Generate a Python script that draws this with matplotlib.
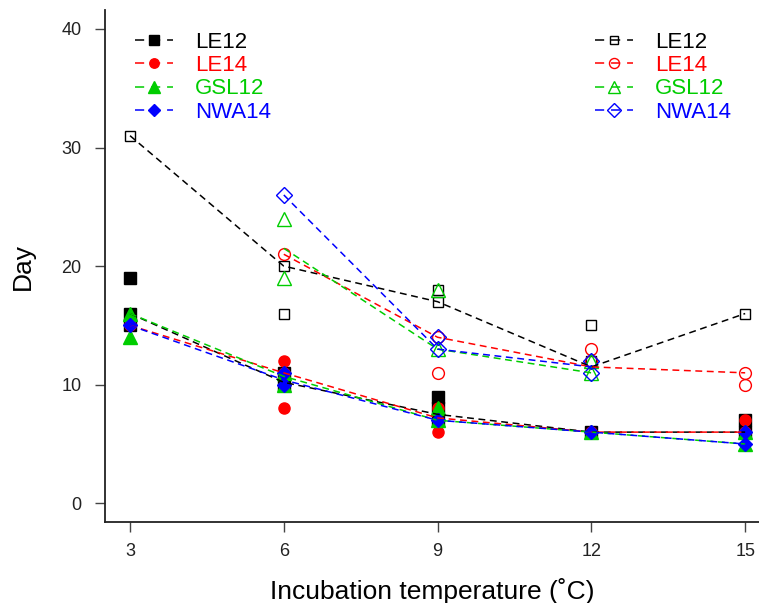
import numpy as np
import matplotlib.pyplot as plt
from matplotlib.lines import Line2D

plt.rcParams['font.family'] = ['Liberation Sans', 'DejaVu Sans']

temps = [3, 6, 9, 12, 15]
nan = np.nan

# replicate observations, lower group (filled symbols)
le12_lo_t = [3, 3, 3, 6, 6, 9, 9, 9, 12, 15, 15]
le12_lo_v = [19, 16, 15, 11, 10, 9, 8, 7, 6, 7, 6]
le14_lo_t = [3, 6, 6, 6, 9, 9, 12, 15, 15]
le14_lo_v = [15, 12, 11, 8, 8, 6, 6, 7, 6]
gsl12_lo_t = [3, 3, 6, 6, 9, 9, 12, 15, 15]
gsl12_lo_v = [16, 14, 11, 10, 8, 7, 6, 6, 5]
nwa14_lo_t = [3, 6, 6, 9, 12, 15, 15]
nwa14_lo_v = [15, 11, 10, 7, 6, 6, 5]

# replicate observations, upper group (open symbols)
le12_hi_t = [3, 6, 6, 9, 9, 12, 12, 15]
le12_hi_v = [31, 20, 16, 18, 17, 15, 12, 16]
le14_hi_t = [6, 9, 9, 12, 12, 15, 15]
le14_hi_v = [21, 14, 11, 13, 12, 11, 10]
gsl12_hi_t = [6, 6, 9, 9, 12, 12]
gsl12_hi_v = [24, 19, 18, 13, 12, 11]
nwa14_hi_t = [6, 9, 9, 12, 12]
nwa14_hi_v = [26, 14, 13, 12, 11]

# fitted curves per temperature
le12_lo_line = [16, 10.2, 7.5, 6, 6]
le14_lo_line = [15, 11, 7.2, 6, 6]
gsl12_lo_line = [16, 10.7, 7, 6, 5]
nwa14_lo_line = [15, 10.4, 7, 6, 5]
le12_hi_line = [31, 20, 17, 11.5, 16]
le14_hi_line = [nan, 21, 14, 11.5, 11]
gsl12_hi_line = [nan, 21.5, 13, 11, nan]
nwa14_hi_line = [nan, 26, 13, 11.5, nan]

names = ['LE12', 'LE14', 'GSL12', 'NWA14']
colors = ['#000000', '#FF0000', '#00CD00', '#0000FF']
markers = ['s', 'o', '^', 'D']
msizes = [8, 8, 9.5, 7]
msizes_open = [7.5, 8.5, 10.5, 8.5]

lo_pts = [(le12_lo_t, le12_lo_v), (le14_lo_t, le14_lo_v),
          (gsl12_lo_t, gsl12_lo_v), (nwa14_lo_t, nwa14_lo_v)]
hi_pts = [(le12_hi_t, le12_hi_v), (le14_hi_t, le14_hi_v),
          (gsl12_hi_t, gsl12_hi_v), (nwa14_hi_t, nwa14_hi_v)]
lo_lines = [le12_lo_line, le14_lo_line, gsl12_lo_line, nwa14_lo_line]
hi_lines = [le12_hi_line, le14_hi_line, gsl12_hi_line, nwa14_hi_line]

dash = (0, (4.5, 3))
leg_dash = (0, (6, 4.5))
lw = 1.1

fig = plt.figure(figsize=(7.59, 6.03), dpi=100)
ax = fig.add_axes([105 / 759, 81 / 603, 1 - 105 / 759, 512 / 603])

for i in range(4):
    c = colors[i]
    ax.plot(*lo_pts[i], linestyle='none', marker=markers[i], ms=msizes[i],
            color=c, mec=c, zorder=2)
    ax.plot(*hi_pts[i], linestyle='none', marker=markers[i], ms=msizes_open[i],
            mfc='none', mec=c, mew=1.0, zorder=2)
for i in range(4):
    ax.plot(temps, lo_lines[i], linestyle=dash, lw=lw, color=colors[i], zorder=3)
    ax.plot(temps, hi_lines[i], linestyle=dash, lw=lw, color=colors[i], zorder=3)

ax.set_xlim(2.512, 15.27)
ax.set_ylim(-1.58, 41.6)
ax.set_xticks(temps)
ax.set_yticks([0, 10, 20, 30, 40])
ax.spines['top'].set_visible(False)
ax.spines['right'].set_visible(False)
for s in ['left', 'bottom']:
    ax.spines[s].set_linewidth(1.3)
    ax.spines[s].set_color('#222222')
ax.tick_params(axis='both', length=7, width=1.0, color='#444444',
               labelsize=13, labelcolor='#222222')
ax.tick_params(axis='y', pad=10)
ax.tick_params(axis='x', pad=8)
ax.set_xlabel('Incubation temperature (˚C)', fontsize=19, labelpad=13)
ax.set_ylabel('Day', fontsize=19, labelpad=19)

# legends: filled symbols on the left, open symbols on the right
h_fill = [Line2D([], [], linestyle=leg_dash, lw=lw, color=colors[i],
                 marker=markers[i], ms=msizes[i] * 0.85) for i in range(4)]
h_open = [Line2D([], [], linestyle=leg_dash, lw=lw, color=colors[i],
                 marker=markers[i], ms=msizes_open[i] * 0.85, mfc='none',
                 mew=1.0) for i in range(4)]
common = dict(frameon=False, fontsize=16, handlelength=1.7, handletextpad=1.0,
              labelspacing=0.1, borderpad=0, borderaxespad=0,
              loc='upper left', bbox_transform=fig.transFigure)
leg1 = ax.legend(h_fill, names, bbox_to_anchor=(135 / 759, 1 - 32 / 603),
                 labelcolor=colors, **common)
ax.add_artist(leg1)
ax.legend(h_open, names, bbox_to_anchor=(595 / 759, 1 - 32 / 603),
          labelcolor=colors, **common)

fig.savefig('out.png', dpi=100)
